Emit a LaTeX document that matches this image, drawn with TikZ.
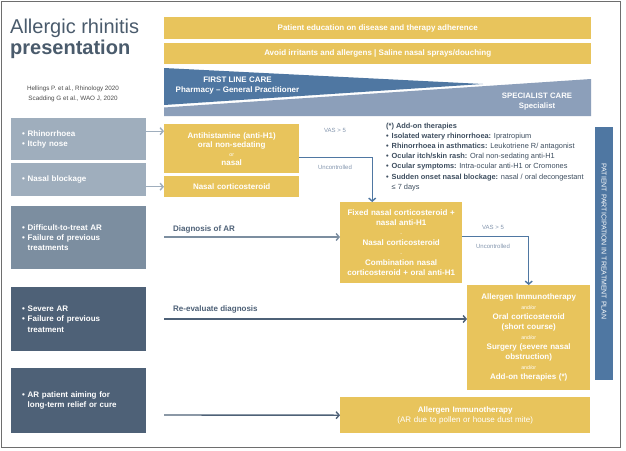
\documentclass[tikz,border=0pt]{standalone}
\usepackage{fontspec}
\setmainfont{Liberation Sans}
\usetikzlibrary{arrows.meta,calc}
\definecolor{ylw}{HTML}{E8C45C}
\definecolor{dblue}{HTML}{4F77A2}
\definecolor{lblue}{HTML}{8C9FBA}
\definecolor{boxl}{HTML}{9FAEBD}
\definecolor{boxm}{HTML}{7C8EA0}
\definecolor{boxd}{HTML}{4E6177}
\definecolor{titlec}{HTML}{4A5B6C}
\definecolor{txtc}{HTML}{3E4E5F}
\definecolor{lab}{HTML}{8496AE}
\definecolor{framec}{HTML}{6E6E6E}
\newcommand{\bul}{\makebox[5.5pt][l]{•}}
\newcommand{\minif}{\mdseries\fontsize{5.2}{5}\selectfont}
\begin{document}
\begin{tikzpicture}[x=1pt,y=-1pt,
  ybox/.style={fill=ylw, text=white, font=\bfseries\fontsize{8}{10}\selectfont, align=center, inner sep=0pt, anchor=north west},
  lbox/.style={text=white, font=\bfseries\fontsize{8}{10.3}\selectfont, align=left, inner xsep=11pt, inner ysep=0pt, text width=113pt, minimum width=135pt, anchor=north west},
  flow/.style={draw=dblue, line width=1.4pt, -{Straight Barb[length=3pt,width=7pt]}},
  garrow/.style={draw=boxl, line width=1.4pt, -{Straight Barb[length=3pt,width=7pt]}},
  lab/.style={text=lab, font=\fontsize{6}{7}\selectfont, inner sep=0pt}
]
\useasboundingbox (0,0) rectangle (626,450);
\fill[white] (0,0) rectangle (626,450);
\draw[framec, line width=1.6pt] (1.5,1.5) rectangle (620.5,447.5);

% title
\node[anchor=base west, inner sep=0pt, text=titlec, font=\fontsize{20}{22}\selectfont] (t1) at (10,33) {Allergic rhinitis};
\node[anchor=base west, inner sep=0pt, text=titlec, font=\bfseries\fontsize{20}{22}\selectfont] (t2) at (10,54) {presentation};
\node[inner sep=0pt, text=black!70, font=\fontsize{6.3}{10}\selectfont, align=center] (cit) at (73,94) {Hellings P. et al., Rhinology 2020\\Scadding G et al., WAO J, 2020};

% top bars
\node[ybox, minimum width=427pt, minimum height=22pt] (b1) at (164,17) {Patient education on disease and therapy adherence};
\node[ybox, minimum width=427pt, minimum height=21pt] (b2) at (164,43) {Avoid irritants and allergens | Saline nasal sprays/douching};

% care wedges
\fill[dblue] (164,68) -- (483,84) -- (164,105) -- cycle;
\fill[lblue] (164,107.5) -- (591,79) -- (591,116) -- (164,116) -- cycle;
\node[text=white, font=\bfseries\fontsize{8}{9.5}\selectfont, align=center, inner sep=0pt] (flc) at (237.5,85.5) {FIRST LINE CARE\\Pharmacy -- General Practitioner};
\node[text=white, font=\bfseries\fontsize{7.8}{10}\selectfont, align=center, inner sep=0pt] (spc) at (537,102) {SPECIALIST CARE\\Specialist};

% left boxes
\node[lbox, fill=boxl, minimum height=42pt] (r1) at (11,118) {\bul Rhinorrhoea\\\bul Itchy nose};
\node[lbox, fill=boxl, minimum height=33pt] (r2) at (11,163) {\bul Nasal blockage};
\node[lbox, fill=boxm, minimum height=63pt] (r3) at (11,206) {\bul Difficult-to-treat AR\\\bul Failure of previous\\\hspace*{5.5pt}treatments};
\node[lbox, fill=boxd, minimum height=64pt] (r4) at (11,287) {\bul Severe AR\\\bul Failure of previous\\\hspace*{5.5pt}treatment\\[6pt]};
\node[lbox, fill=boxd, minimum height=65pt] (r5) at (11,368) {\bul AR patient aiming for\\\hspace*{5.5pt}long-term relief or cure};

% yellow boxes
\node[ybox, font=\bfseries\fontsize{8}{9}\selectfont, minimum width=135pt, minimum height=49pt, text width=129pt] (A) at (164,124) {Antihistamine (anti-H1)\\oral non-sedating\\{\minif or}\\nasal};
\node[ybox, minimum width=135pt, minimum height=21pt, text width=129pt] (B) at (164,176) {Nasal corticosteroid\\[5pt]};
\node[ybox, minimum width=122pt, minimum height=81pt, text width=120pt] (C) at (340,202) {Fixed nasal corticosteroid +\\nasal anti-H1\\{\minif -}\\Nasal corticosteroid\\{\minif -}\\Combination nasal\\corticosteroid + oral anti-H1};
\node[ybox, minimum width=123pt, minimum height=105pt, text width=120pt] (D) at (467,285) {Allergen Immunotherapy\\{\minif and/or}\\Oral corticosteroid\\(short course)\\{\minif and/or}\\Surgery (severe nasal\\obstruction)\\{\minif and/or}\\Add-on therapies (*)};
\node[ybox, minimum width=250pt, minimum height=36pt, text width=240pt] (E) at (340,397) {Allergen Immunotherapy\\{\mdseries (AR due to pollen or house dust mite)}};

% add-on therapies
\node[anchor=north west, inner sep=0pt, text=txtc, align=left, font=\fontsize{7.4}{10.2}\selectfont] (addon) at (386,122.5) {\textbf{(*) Add-on therapies}\\
\textbf{\bul Isolated watery rhinorrhoea:} Ipratropium\\
\textbf{\bul Rhinorrhoea in asthmatics:} Leukotriene R/ antagonist\\
\textbf{\bul Ocular itch/skin rash:} Oral non-sedating anti-H1\\
\textbf{\bul Ocular symptoms:} Intra-ocular anti-H1 or Cromones\\
\textbf{\bul Sudden onset nasal blockage:} nasal / oral decongestant\\
\hspace*{5.5pt}≤ 7 days};

% patient participation bar
\node[fill=dblue, minimum width=18pt, minimum height=253pt, inner sep=0pt, anchor=north west] (pp) at (595,127) {};
\node[rotate=-90, text=white, font=\fontsize{7}{7}\selectfont, inner sep=0pt] (ppt) at (604,241.5) {PATIENT PARTICIPATION IN TREATMENT PLAN};

% arrows from left
\draw[garrow] ([yshift=8pt]r1.east) -- ([yshift=8pt]r1.east -| A.west);
\draw[garrow] ([yshift=-7pt]r2.east) -- ([yshift=-7pt]r2.east -| B.west);

% VAS connectors
\draw[flow] ([yshift=-8.5pt]A.east) -| ([xshift=-29pt]C.north);
\node[lab] (v1) at (335,130) {VAS > 5};
\node[lab] (u1) at (335,167) {Uncontrolled};
\draw[flow] ([yshift=6.5pt]C.east) -| (D.north);
\node[lab] (v2) at (493,227) {VAS > 5};
\node[lab] (u2) at (493,246) {Uncontrolled};

% diagnosis lines
\coordinate (d0) at (164,237);
\draw[draw=boxm, line width=1.4pt, -{Straight Barb[length=3pt,width=7pt]}] (d0) -- (d0 -| C.west);
\node[anchor=base west, inner sep=0pt, text=boxd, font=\bfseries\fontsize{8}{9}\selectfont] (dg) at (173,231) {Diagnosis of AR};
\coordinate (e0) at (164,319);
\draw[draw=boxd, line width=1.4pt, -{Straight Barb[length=3pt,width=7pt]}] (e0) -- (e0 -| D.west);
\node[anchor=base west, inner sep=0pt, text=boxd, font=\bfseries\fontsize{8}{9}\selectfont] (re) at (173,311.5) {Re-evaluate diagnosis};
\coordinate (f0) at (164,415);
\draw[draw=boxd, line width=1.4pt, -{Straight Barb[length=3pt,width=7pt]}] (f0) -- (E.west);
\end{tikzpicture}
\end{document}
